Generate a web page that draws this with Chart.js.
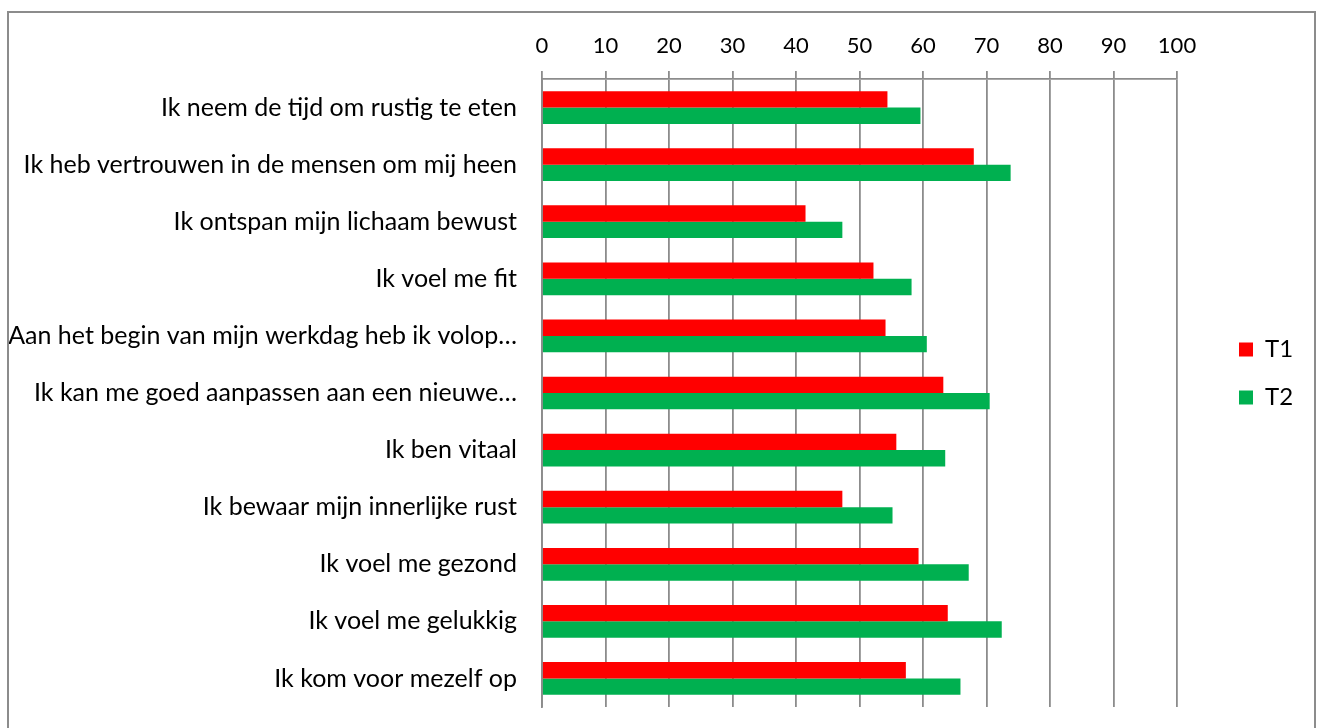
<!DOCTYPE html>
<html>
<head>
<meta charset="utf-8">
<script src="https://cdn.jsdelivr.net/npm/chart.js@4.4.1/dist/chart.umd.min.js"></script>
<style>
  html, body { margin: 0; padding: 0; background: #fff; }
  #wrap { position: relative; width: 1317px; height: 728px; overflow: hidden; }
  #frame { position: absolute; left: 7px; top: 11px; width: 1309px; height: 740px; border: 2px solid #8c8c8c; box-sizing: border-box; pointer-events: none; }
  canvas { position: absolute; left: 0; top: 0; }
</style>
</head>
<body>
<div id="wrap">
  <canvas id="c" width="1317" height="728"></canvas>
  <div id="frame"></div>
</div>
<script>
const categories = [
  "Ik neem de tijd om rustig te eten",
  "Ik heb vertrouwen in de mensen om mij heen",
  "Ik ontspan mijn lichaam bewust",
  "Ik voel me fit",
  "Aan het begin van mijn werkdag heb ik volop…",
  "Ik kan me goed aanpassen aan een nieuwe…",
  "Ik ben vitaal",
  "Ik bewaar mijn innerlijke rust",
  "Ik voel me gezond",
  "Ik voel me gelukkig",
  "Ik kom voor mezelf op"
];
const seriesNames = ["T1", "T2"];
const t1Values = [54.4, 68.0, 41.5, 52.2, 54.1, 63.2, 55.8, 47.3, 59.3, 63.9, 57.3];
const t2Values = [59.6, 73.8, 47.3, 58.2, 60.6, 70.5, 63.5, 55.2, 67.2, 72.4, 65.9];
const xTicks = [0, 10, 20, 30, 40, 50, 60, 70, 80, 90, 100];

const FONT = "Lato";
const gridColor = "#8c8c8c";
const LEGEND_PAD = 24;

const legendTweak = {
  id: "legendTweak",
  beforeLayout(chart) {
    const lg = chart.legend;
    if (lg && !lg._fixedWidth) {
      const f = lg.fit;
      lg.fit = function () { f.call(this); this.width = 140; };
      lg._fixedWidth = true;
    }
  },
  afterLayout(chart) {
    const lg = chart.legend;
    if (lg) {
      lg.left = 1239 - LEGEND_PAD;
      lg.right = lg.left + lg.width;
      lg.top = 40;
      lg.bottom = 707;
    }
  }
};

new Chart(document.getElementById("c"), {
  type: "bar",
  data: {
    labels: categories,
    datasets: [
      { label: seriesNames[0], data: t1Values, backgroundColor: "#ff0000", borderWidth: 0 },
      { label: seriesNames[1], data: t2Values, backgroundColor: "#00b050", borderWidth: 0 }
    ]
  },
  plugins: [legendTweak],
  options: {
    indexAxis: "y",
    responsive: false,
    animation: false,
    maintainAspectRatio: false,
    datasets: { bar: { categoryPercentage: 0.573, barPercentage: 1.0 } },
    layout: { padding: { left: 0, top: 14, right: 0, bottom: 21 } },
    scales: {
      x: {
        position: "top",
        min: 0, max: 100,
        afterBuildTicks: (s) => { s.ticks = xTicks.map(v => ({ value: v })); },
        afterFit: (s) => { s.height = 65; s.paddingRight = 0; s.paddingLeft = 0; },
        grid: { color: gridColor, lineWidth: 1.8, drawTicks: true, tickLength: 8, tickColor: gridColor },
        border: { display: true, color: gridColor, width: 1.8 },
        ticks: { color: "#000", font: { family: FONT, size: 22 }, padding: 12, maxRotation: 0 }
      },
      y: {
        afterFit: (s) => { s.width = 542; s.paddingTop = 0; s.paddingBottom = 0; },
        grid: { display: false, drawTicks: false },
        border: { display: true, color: gridColor, width: 1.8 },
        ticks: { color: "#000", font: { family: FONT, size: 25 }, padding: 25, autoSkip: false }
      }
    },
    plugins: {
      legend: {
        position: "right",
        labels: { color: "#000", font: { family: FONT, size: 24 }, boxWidth: 14, boxHeight: 14, padding: LEGEND_PAD }
      },
      tooltip: { enabled: false }
    }
  }
});
</script>
</body>
</html>
